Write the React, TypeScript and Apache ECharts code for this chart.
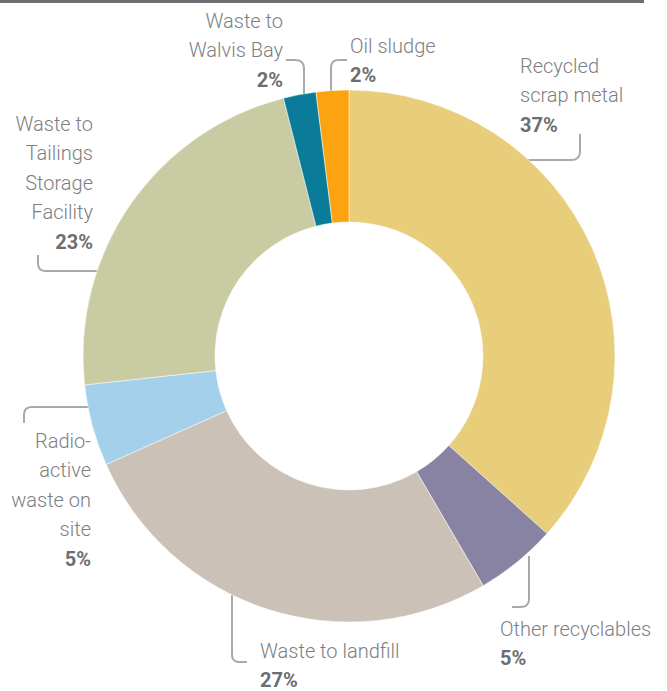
import React, { useEffect, useRef } from "react";
import * as echarts from "echarts";

// Waste streams, clockwise from twelve o'clock
const categories = [
  "Recycled\nscrap metal",
  "Other recyclables",
  "Waste to landfill",
  "Radio-\nactive\nwaste on\nsite",
  "Waste to\nTailings\nStorage\nFacility",
  "Waste to\nWalvis Bay",
  "Oil sludge",
];
const shares = [37, 5, 27, 5, 23, 2, 2];
const sliceColors = ["#E8CD7A", "#8983A3", "#CBC1B7", "#A4D0EB", "#C9CBA3", "#0B7B9A", "#FCA312"];

// Where each label block sits and the elbow path of its leader line
const labelSpots: { x: number; y: number; align: "left" | "right"; leader: number[][] }[] = [
  { x: 520, y: 51, align: "left", leader: [[528, 160], [580, 160], [580, 134]] },
  { x: 500, y: 614, align: "left", leader: [[529, 556], [529, 607], [512, 607]] },
  { x: 260, y: 636, align: "left", leader: [[232, 595], [232, 662], [247, 662]] },
  { x: 91, y: 426, align: "right", leader: [[89, 407], [24, 407], [24, 423]] },
  { x: 93, y: 109, align: "right", leader: [[97, 271], [38, 271], [38, 255]] },
  { x: 283, y: 6, align: "right", leader: [[304, 96], [304, 60], [286, 60]] },
  { x: 350, y: 31, align: "left", leader: [[331, 91], [331, 60], [347, 60]] },
];

// Replace each inner corner of a polyline with a short quadratic curve
function roundCorners(pts: number[][], r: number): number[][] {
  const out: number[][] = [pts[0]];
  for (let i = 1; i < pts.length - 1; i++) {
    const [px, py] = pts[i - 1];
    const [cx, cy] = pts[i];
    const [nx, ny] = pts[i + 1];
    const d1 = Math.hypot(cx - px, cy - py);
    const d2 = Math.hypot(nx - cx, ny - cy);
    const rr = Math.min(r, d1 / 2, d2 / 2);
    const a = [cx - ((cx - px) / d1) * rr, cy - ((cy - py) / d1) * rr];
    const b = [cx + ((nx - cx) / d2) * rr, cy + ((ny - cy) / d2) * rr];
    for (let k = 0; k <= 8; k++) {
      const t = k / 8;
      const u = 1 - t;
      out.push([
        u * u * a[0] + 2 * u * t * cx + t * t * b[0],
        u * u * a[1] + 2 * u * t * cy + t * t * b[1],
      ]);
    }
  }
  out.push(pts[pts.length - 1]);
  return out;
}

const FONT = "Roboto, 'Noto Sans', sans-serif";

export default function App() {
  const ref = useRef<HTMLDivElement>(null);

  useEffect(() => {
    if (!ref.current) return;
    const chart = echarts.init(ref.current, undefined, { renderer: "svg" });

    const data = categories.map((name, i) => ({
      name,
      value: shares[i],
      itemStyle: { color: sliceColors[i] },
    }));

    chart.setOption({
      animation: false,
      backgroundColor: "#ffffff",
      graphic: [
        {
          type: "rect",
          left: 0,
          top: 0,
          shape: { x: 0, y: 0, width: 644, height: 3 },
          style: { fill: "#6D6E71" },
          silent: true,
        },
      ],
      series: [
        {
          type: "pie",
          center: [349, 356],
          radius: [134, 266],
          startAngle: 90,
          clockwise: true,
          avoidLabelOverlap: false,
          itemStyle: { borderColor: "#ffffff", borderWidth: 0.5 },
          label: {
            show: true,
            position: "outside",
            fontFamily: FONT,
            formatter: (p: any) =>
              String(p.name)
                .split("\n")
                .map((l: string) => `{n|${l}}`)
                .join("\n") + `\n{p|${p.value}%}`,
            rich: {
              n: {
                fontFamily: FONT,
                fontSize: 20,
                fontWeight: 300,
                color: "#7D7E81",
                lineHeight: 29.5,
              },
              p: {
                fontFamily: FONT,
                fontSize: 20,
                fontWeight: "bold",
                color: "#6D6E71",
                lineHeight: 29,
              },
            },
          },
          labelLine: {
            show: true,
            length: 10,
            length2: 10,
            lineStyle: { color: "#A7A9AC", width: 2 },
          },
          labelLayout: (params: any) => {
            const s = labelSpots[params.dataIndex];
            return {
              x: s.x,
              y: s.y,
              align: s.align,
              verticalAlign: "top",
              labelLinePoints: roundCorners(s.leader, 9),
            };
          },
          data,
        },
      ],
    });

    return () => chart.dispose();
  }, []);

  return (
    <div
      ref={ref}
      style={{ position: "fixed", left: 0, top: 0, width: 667, height: 691 }}
    />
  );
}
